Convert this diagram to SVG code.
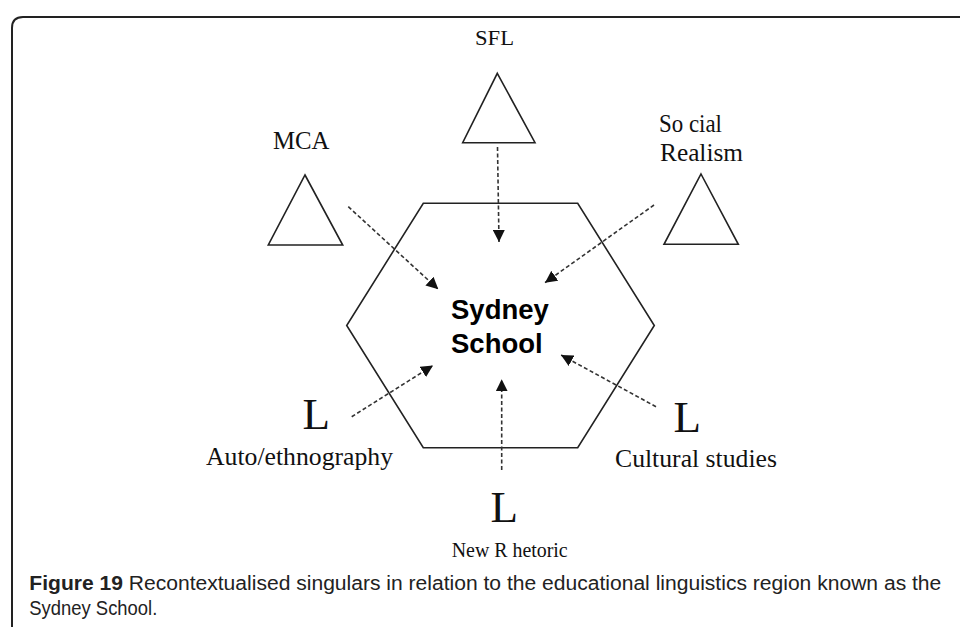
<svg xmlns="http://www.w3.org/2000/svg" width="960" height="627" viewBox="0 0 960 627">
  <style>
    .frame { fill: none; stroke: #222; stroke-width: 2; }
    .shape { fill: none; stroke: #222; stroke-width: 1.6; stroke-linejoin: miter; }
    .conn { fill: none; stroke: #333; stroke-width: 1.6; stroke-dasharray: 4 2.5; }
    .lbl { font-family: "Liberation Serif", "Times New Roman", serif; fill: #111; }
    .big { font-family: "Liberation Serif", "Times New Roman", serif; font-size: 45px; fill: #111; }
    .hub { font-family: "Liberation Sans", Arial, sans-serif; font-weight: bold; font-size: 27.5px; fill: #000; }
    .cap { font-family: "Liberation Sans", Arial, sans-serif; font-size: 19.5px; fill: #222; }
  </style>
  <defs>
    <marker id="head" viewBox="0 0 10 10" refX="10" refY="5" markerWidth="12" markerHeight="12" markerUnits="userSpaceOnUse" orient="auto">
      <path d="M0 0 L10 5 L0 10 Z" fill="#111"/>
    </marker>
  </defs>

  <rect width="960" height="627" fill="#fff"/>
  <!-- page frame (open at right and bottom) -->
  <path class="frame" d="M12 627 V28 Q12 17 23 17 H960"/>

  <!-- central region -->
  <g id="sydney-school">
    <polygon class="shape" points="423.3,203.3 577.7,203.3 654.3,325.5 577.7,447.7 423.3,447.7 346.7,325.5"/>
    <text class="hub" x="451" y="318.5">Sydney</text>
    <text class="hub" x="451" y="352.7">School</text>
  </g>

  <g id="sfl">
    <text class="lbl" x="494.5" y="45" font-size="20.5" text-anchor="middle" textLength="39" lengthAdjust="spacingAndGlyphs">SFL</text>
    <polygon class="shape" points="497.3,73.3 535,142.7 462.7,142.7"/>
  </g>

  <g id="mca">
    <text class="lbl" x="273" y="149.3" font-size="25" textLength="56.5" lengthAdjust="spacingAndGlyphs">MCA</text>
    <polygon class="shape" points="305,175 342.7,245 268.3,245"/>
  </g>

  <g id="social-realism">
    <text class="lbl" x="659" y="131.7" font-size="25" textLength="63" lengthAdjust="spacingAndGlyphs">So cial</text>
    <text class="lbl" x="660" y="161" font-size="25" textLength="83" lengthAdjust="spacingAndGlyphs">Realism</text>
    <polygon class="shape" points="701,174 738.3,244.3 664,244.3"/>
  </g>

  <g id="auto-ethnography">
    <text class="big" x="302.5" y="429.3">L</text>
    <text class="lbl" x="206" y="464.5" font-size="25" textLength="187" lengthAdjust="spacingAndGlyphs">Auto/ethnography</text>
  </g>

  <g id="new-rhetoric">
    <text class="big" x="490.5" y="521.7">L</text>
    <text class="lbl" x="451.7" y="557" font-size="22" textLength="116" lengthAdjust="spacingAndGlyphs">New R hetoric</text>
  </g>

  <g id="cultural-studies">
    <text class="big" x="673.5" y="431.7">L</text>
    <text class="lbl" x="615" y="467.3" font-size="25" textLength="162" lengthAdjust="spacingAndGlyphs">Cultural studies</text>
  </g>

  <!-- influences flowing into the Sydney School -->
  <g id="connectors">
    <line class="conn" x1="497.5" y1="147" x2="499" y2="242" marker-end="url(#head)"/>
    <line class="conn" x1="348.3" y1="206.7" x2="438.3" y2="289.3" marker-end="url(#head)"/>
    <line class="conn" x1="654" y1="205" x2="545" y2="282.7" marker-end="url(#head)"/>
    <line class="conn" x1="351.7" y1="416.7" x2="433" y2="365.5" marker-end="url(#head)"/>
    <line class="conn" x1="501.7" y1="470" x2="501.7" y2="379.3" marker-end="url(#head)"/>
    <line class="conn" x1="656" y1="406.7" x2="561" y2="355" marker-end="url(#head)"/>
  </g>

  <!-- caption -->
  <text class="cap" x="29.3" y="589.5" textLength="912" lengthAdjust="spacingAndGlyphs"><tspan font-weight="bold">Figure 19</tspan> Recontextualised singulars in relation to the educational linguistics region known as the</text>
  <text class="cap" x="29.3" y="615" textLength="128" lengthAdjust="spacingAndGlyphs">Sydney School.</text>
</svg>
